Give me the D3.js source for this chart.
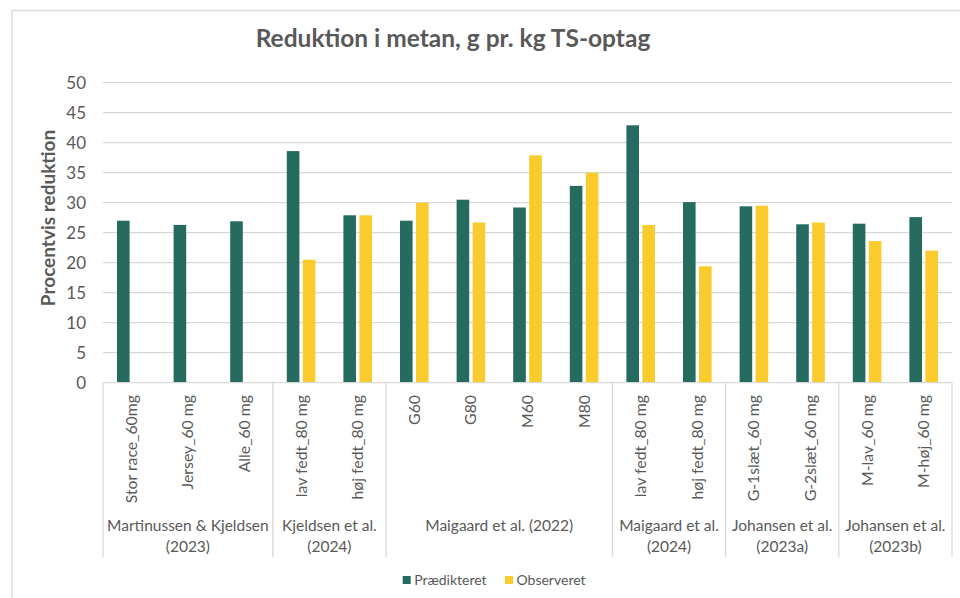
<!DOCTYPE html>
<meta charset="utf-8">
<style>
body { margin: 0; background: #fff; }
svg text { font-family: Lato, "Noto Sans", sans-serif; fill: #595959; }
.grid line { stroke: #d9d9d9; stroke-width: 1.3px; }
.sep { stroke: #d9d9d9; stroke-width: 1.3px; }
</style>
<body>
<svg width="960" height="598"></svg>
<script src="https://cdn.jsdelivr.net/npm/d3@7"></script>
<script>

var categories = ["Stor race_60mg", "Jersey_60 mg", "Alle_60 mg",
  "lav fedt_80 mg", "høj fedt_80 mg",
  "G60", "G80", "M60", "M80",
  "lav fedt_80 mg", "høj fedt_80 mg",
  "G-1slæt_60 mg", "G-2slæt_60 mg",
  "M-lav_60 mg", "M-høj_60 mg"];

var groups = [
  {lines: ["Martinussen & Kjeldsen", "(2023)"], n: 3},
  {lines: ["Kjeldsen et al.", "(2024)"], n: 2},
  {lines: ["Maigaard et al. (2022)"], n: 4},
  {lines: ["Maigaard et al.", "(2024)"], n: 2},
  {lines: ["Johansen et al.", "(2023a)"], n: 2},
  {lines: ["Johansen et al.", "(2023b)"], n: 2}
];

var predicted = [27.0, 26.3, 26.9, 38.6, 27.9, 27.0, 30.5, 29.2, 32.8, 42.9, 30.1, 29.4, 26.4, 26.5, 27.6];
var observed  = [null, null, null, 20.5, 27.9, 30.0, 26.7, 37.9, 35.0, 26.3, 19.4, 29.5, 26.7, 23.6, 22.0];

var seriesNames = ["Prædikteret", "Observeret"];
var colors = ["#256b60", "#f9cb2c"];
var yTicks = [0, 5, 10, 15, 20, 25, 30, 35, 40, 45, 50];

var svg = d3.select("svg");

// outer frame (top and left only visible)
svg.append("line").attr("x1", 12).attr("x2", 960).attr("y1", 10.5).attr("y2", 10.5)
  .attr("stroke", "#d9d9d9").attr("stroke-width", 1.3);
svg.append("line").attr("x1", 12).attr("x2", 12).attr("y1", 10).attr("y2", 598)
  .attr("stroke", "#d9d9d9").attr("stroke-width", 1.3);

var plotLeft = 103, plotRight = 952, plotTop = 82.7, plotBottom = 382.7;

var x = d3.scaleBand().domain(d3.range(categories.length)).range([plotLeft, plotRight]);
var cw = x.bandwidth();
var xs = d3.scaleBand().domain([0, 1])
  .range([cw / 2 - 14.3, cw / 2 + 14.3])
  .paddingInner(0.2125).paddingOuter(0);
var y = d3.scaleLinear().domain([0, 50]).range([plotBottom, plotTop]);

// gridlines
svg.append("g").attr("class", "grid")
  .selectAll("line").data(yTicks.slice(1)).enter().append("line")
  .attr("x1", plotLeft).attr("x2", plotRight)
  .attr("y1", function(d) { return y(d); }).attr("y2", function(d) { return y(d); });

// y tick labels
svg.append("g").selectAll("text").data(yTicks).enter().append("text")
  .attr("x", 86).attr("y", function(d) { return y(d); })
  .attr("dy", "0.35em").attr("text-anchor", "end")
  .style("font-size", "17px")
  .text(function(d) { return d; });

// y title
svg.append("text")
  .attr("transform", "translate(48,218) rotate(-90)")
  .attr("text-anchor", "middle").attr("dy", "0.35em")
  .style("font-size", "19px").style("font-weight", "bold")
  .text("Procentvis reduktion");

// title
svg.append("text")
  .attr("x", 453).attr("y", 47)
  .attr("text-anchor", "middle")
  .style("font-size", "24.5px").style("font-weight", "bold")
  .text("Reduktion i metan, g pr. kg TS-optag");

// bars
var rows = categories.map(function(c, i) { return [predicted[i], observed[i]]; });
var cat = svg.append("g").selectAll("g").data(rows).enter().append("g")
  .attr("transform", function(d, i) { return "translate(" + x(i) + ",0)"; });
cat.selectAll("rect")
  .data(function(d) { return d.map(function(v, k) { return {k: k, v: v}; }).filter(function(e) { return e.v != null; }); })
  .enter().append("rect")
  .attr("x", function(d) { return xs(d.k); })
  .attr("width", xs.bandwidth())
  .attr("y", function(d) { return y(d.v); })
  .attr("height", function(d) { return y(0) - y(d.v); })
  .attr("fill", function(d) { return colors[d.k]; });

// baseline
svg.append("line").attr("class", "sep")
  .attr("x1", plotLeft).attr("x2", plotRight).attr("y1", plotBottom).attr("y2", plotBottom);

// group separators and labels
var start = 0, bounds = [0];
groups.forEach(function(g) { start += g.n; bounds.push(start); });
function bx(b) { return b < categories.length ? x(b) : plotRight; }
svg.append("g").selectAll("line").data(bounds).enter().append("line")
  .attr("class", "sep")
  .attr("x1", bx).attr("x2", bx)
  .attr("y1", plotBottom).attr("y2", 557);

// category labels
svg.append("g").selectAll("text").data(categories).enter().append("text")
  .attr("transform", function(d, i) { return "translate(" + (x(i) + cw / 2) + ",395) rotate(-90)"; })
  .attr("text-anchor", "end").attr("dy", "0.35em")
  .style("font-size", "15.8px")
  .text(function(d) { return d; });

var gl = svg.append("g").selectAll("text").data(groups).enter().append("text")
  .attr("x", function(g, i) { return (bx(bounds[i]) + bx(bounds[i + 1])) / 2; })
  .attr("y", 526)
  .attr("text-anchor", "middle")
  .style("font-size", "15.5px");
gl.selectAll("tspan").data(function(g) { return g.lines; }).enter().append("tspan")
  .attr("x", function() { return d3.select(this.parentNode).attr("x"); })
  .attr("dy", function(d, i) { return i === 0 ? "0.35em" : "1.35em"; })
  .text(function(d) { return d; });

// legend
var legX = [402.7, 505];
var leg = svg.append("g").selectAll("g").data(seriesNames).enter().append("g")
  .attr("transform", function(d, i) { return "translate(" + legX[i] + ",576)"; });
leg.append("rect").attr("width", 8).attr("height", 8)
  .attr("fill", function(d, i) { return colors[i]; });
leg.append("text").attr("x", 11.5).attr("y", 4).attr("dy", "0.35em")
  .style("font-size", "14px")
  .text(function(d) { return d; });

</script>
</body>
